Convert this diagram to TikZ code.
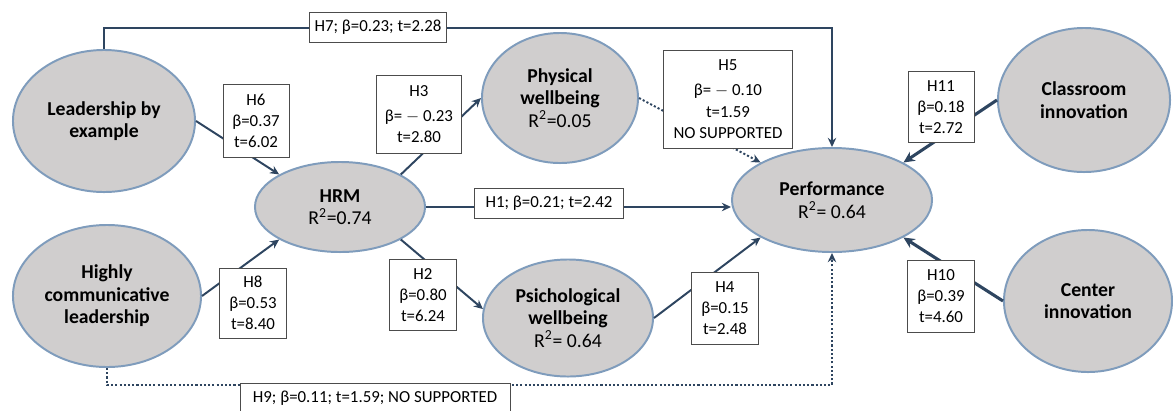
\documentclass[tikz,border=0pt]{standalone}
\usepackage{fontspec}
\setmainfont{Carlito}
\usepackage{xcolor}
\usetikzlibrary{calc,arrows.meta,shapes}

\definecolor{ovalfill}{HTML}{D0CECE}
\definecolor{ovalline}{HTML}{7F9CBC}
\definecolor{pathcol}{HTML}{2E4560}

\begin{document}
\begin{tikzpicture}[x=0.025cm,y=-0.025cm,
  construct/.style={ellipse,draw=ovalline,line width=1.4pt,fill=ovalfill,
    align=center,inner sep=0pt,font=\fontsize{14}{16}\selectfont},
  hyp/.style={draw=black!70,line width=0.6pt,fill=white,align=center,
    inner sep=1pt,font=\fontsize{12}{15}\selectfont},
  link/.style={draw=pathcol,line width=1.4pt,-{Stealth[length=6.5pt,width=6pt]}},
  weak/.style={link,dash pattern=on 1.5pt off 1.5pt},
  strong/.style={link,line width=2.2pt,-{Stealth[length=8pt,width=7.5pt]}}]
  \useasboundingbox (0,0) rectangle (1173,410);

  % constructs
  \node[construct,minimum width=4.55cm,minimum height=3.55cm] (lead) at (104,121)
    {\textbf{Leadership by}\\\textbf{example}};
  \node[construct,minimum width=4.7cm,minimum height=3.55cm] (comm) at (107,296)
    {\textbf{Highly}\\\textbf{communicative}\\\textbf{leadership}};
  \node[construct,minimum width=4.25cm,minimum height=2.25cm] (hrm) at (340,207)
    {\textbf{HRM}\\R\textsuperscript{2}=0.74};
  \node[construct,minimum width=3.9cm,minimum height=3.25cm] (phys) at (560,98)
    {\textbf{Physical}\\\textbf{wellbeing}\\R\textsuperscript{2}=0.05};
  \node[construct,minimum width=4.25cm,minimum height=2.925cm] (psy) at (568,318)
    {\textbf{Psichological}\\\textbf{wellbeing}\\R\textsuperscript{2}= 0.64};
  \node[construct,minimum width=5cm,minimum height=2.6cm] (perf) at (832,200)
    {\textbf{Performance}\\R\textsuperscript{2}= 0.64};
  \node[construct,minimum width=4.3cm,minimum height=3.6cm] (class) at (1084,100)
    {\textbf{Classroom}\\\textbf{innovation}};
  \node[construct,minimum width=4.2cm,minimum height=3.55cm] (center) at (1088,301)
    {\textbf{Center}\\\textbf{innovation}};

  \coordinate (toprow) at (0,28);
  \coordinate (botrow) at (0,385);

  % paths
  \draw[link] (lead.east) -- (hrm.north west);
  \draw[link] (comm.east) -- (hrm.south west);
  \draw[link] (hrm.north east) -- (phys.west);
  \draw[link] (hrm.south east) -- (psy.174);
  \draw[link] (hrm.east) -- (perf.west |- hrm.east);
  \draw[link] (psy.east) -- (perf.south west);
  \draw[weak] (phys.east) -- (perf.north west);
  \draw[link] (lead.north) |- (toprow -| perf.north) -- (perf.north);
  \draw[weak] (comm.south) |- (botrow -| perf.south) -- (perf.south);
  \draw[strong] (class.west) -- (perf.north east);
  \draw[strong] (center.west) -- (perf.south east);

  % hypothesis labels
  \node[hyp,minimum width=3.425cm,minimum height=0.75cm] (h7) at (378,27) {H7; β=0.23; t=2.28};
  \node[hyp,minimum width=1.65cm,minimum height=1.825cm] (h6) at (256,121) {H6\\β=0.37\\t=6.02};
  \node[hyp,minimum width=2.125cm,minimum height=1.95cm] (h3) at (419,114) {H3\\[3pt]β= $-$ 0.23\\t=2.80};
  \node[hyp,minimum width=3.225cm,minimum height=2.45cm] (h5) at (728,99) {H5\\[3pt]β= $-$ 0.10\\t=1.59\\NO SUPPORTED};
  \node[hyp,minimum width=3.725cm,minimum height=0.75cm] (h1) at (549,203) {H1; β=0.21; t=2.42};
  \node[hyp,minimum width=1.65cm,minimum height=1.775cm] (h11) at (941,107) {H11\\β=0.18\\t=2.72};
  \node[hyp,minimum width=1.675cm,minimum height=1.75cm] (h8) at (253,303) {H8\\β=0.53\\t=8.40};
  \node[hyp,minimum width=1.675cm,minimum height=1.775cm] (h2) at (423,295) {H2\\β=0.80\\t=6.24};
  \node[hyp,minimum width=1.675cm,minimum height=1.8cm] (h4) at (725,308) {H4\\β=0.15\\t=2.48};
  \node[hyp,minimum width=1.675cm,minimum height=1.8cm] (h10) at (941,296) {H10\\β=0.39\\t=4.60};
  \node[hyp,minimum width=6.75cm,minimum height=0.75cm] (h9) at (375,398) {H9; β=0.11; t=1.59; NO SUPPORTED};
\end{tikzpicture}
\end{document}
